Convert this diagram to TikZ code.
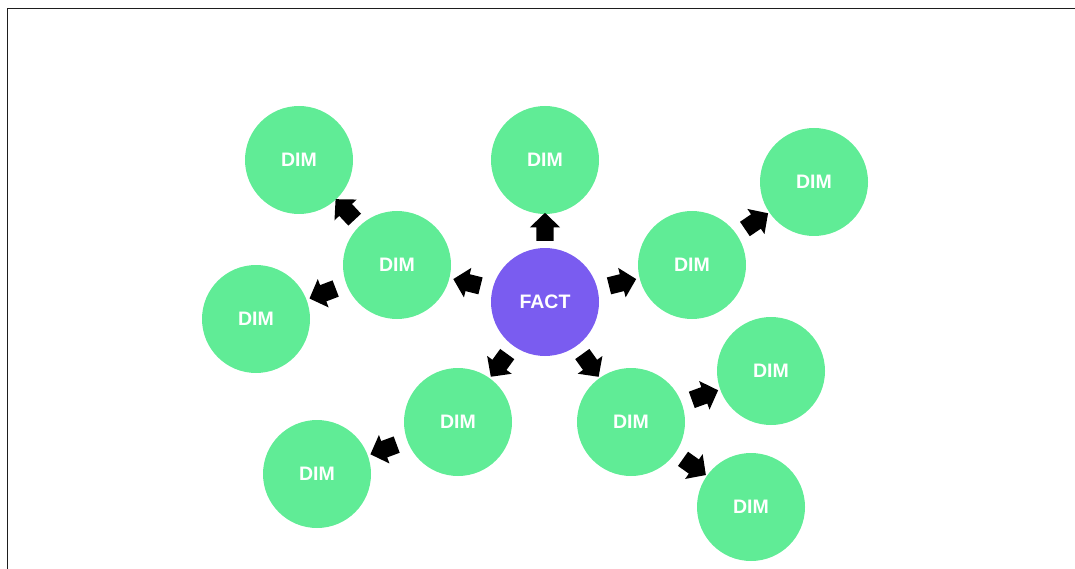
\documentclass[tikz,border=0pt]{standalone}
\usepackage{fontspec}
\setmainfont{Liberation Sans}
\usetikzlibrary{shapes.arrows}
\definecolor{dimgreen}{RGB}{96,236,150}
\definecolor{factpurple}{RGB}{122,92,240}
\definecolor{framegray}{RGB}{30,30,30}
\tikzset{
  table/.style={circle, minimum size=108pt, inner sep=0pt, text=white,
    font=\fontsize{19.5}{20}\selectfont\bfseries},
  dimtable/.style={table, fill=dimgreen},
  facttable/.style={table, fill=factpurple},
  link/.style={single arrow, fill=black, draw=none,
    inner xsep=0pt, inner ysep=8.5pt,
    minimum height=28pt, minimum width=30pt,
    single arrow head extend=6.5pt, single arrow tip angle=92,
    sloped, allow upside down},
}
\begin{document}
\begin{tikzpicture}[x=1pt, y=-1pt]
  \useasboundingbox (0,0) rectangle (1075,569);
  % frame: top and left edges only
  \draw[framegray, line width=1.5pt] (7.5,569) -- (7.5,8.5) -- (1075,8.5);

  % central fact table
  \node[facttable] (fact) at (545,302) {FACT};

  % first ring of dimensions
  \node[dimtable] (top)  at (545,160) {DIM};
  \node[dimtable] (lm)   at (397,265) {DIM};
  \node[dimtable] (rm)   at (692,265) {DIM};
  \node[dimtable] (ll)   at (458,422) {DIM};
  \node[dimtable] (lr)   at (631,422) {DIM};

  % outer dimensions
  \node[dimtable] (tl)   at (299,160) {DIM};
  \node[dimtable] (fl)   at (256,319) {DIM};
  \node[dimtable] (fr)   at (814,182) {DIM};
  \node[dimtable] (bl)   at (317,474) {DIM};
  \node[dimtable] (rl)   at (771,371) {DIM};
  \node[dimtable] (br)   at (751,507) {DIM};

  % block arrows halfway between the linked tables
  \path (fact) -- node[link] {} (top);
  \path (fact) -- node[link] {} (lm);
  \path (fact) -- node[link] {} (rm);
  \path (fact) -- node[link] {} (ll);
  \path (fact) -- node[link] {} (lr);
  \path (lm)   -- node[link] {} (tl);
  \path (lm)   -- node[link] {} (fl);
  \path (rm)   -- node[link] {} (fr);
  \path (ll)   -- node[link] {} (bl);
  \path (lr)   -- node[link] {} (rl);
  \path (lr)   -- node[link] {} (br);
\end{tikzpicture}
\end{document}
